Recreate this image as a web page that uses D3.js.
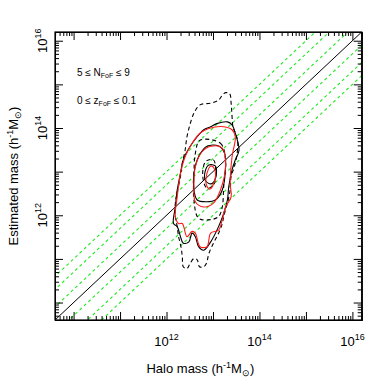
<!DOCTYPE html>
<html>
<head>
<meta charset="utf-8">
<script src="https://cdn.jsdelivr.net/npm/d3@7"></script>
<style>
  body { margin: 0; background: #fff; }
  text { font-family: "Liberation Sans", Arial, sans-serif; fill: #000; }
</style>
</head>
<body>
<svg id="chart"></svg>
<script>
// log10 masses, [halo, estimated]
const dashedOuter = [[13.27,14.81],[13.36,14.78],[13.39,14.57],[13.41,14.26],[13.43,14.03],[13.48,13.88],[13.53,13.72],[13.52,13.42],[13.46,13.11],[13.39,12.89],[13.37,12.58],[13.31,12.28],[13.23,11.97],[13.20,11.81],[13.12,11.59],[13.01,11.36],[12.91,11.12],[12.86,10.90],[12.80,10.82],[12.71,10.82],[12.66,10.98],[12.59,11.01],[12.51,10.90],[12.44,10.78],[12.36,10.82],[12.34,11.05],[12.31,11.28],[12.26,11.51],[12.23,11.74],[12.19,11.97],[12.19,12.28],[12.24,12.58],[12.30,12.89],[12.34,13.19],[12.40,13.49],[12.44,13.80],[12.51,14.10],[12.59,14.34],[12.72,14.53],[12.95,14.57],[13.12,14.64],[13.20,14.75]]
const dashedMiddle = [[12.72,13.72],[13.16,13.65],[13.27,13.27],[13.23,12.66],[13.20,12.19],[13.12,11.97],[12.95,11.90],[12.69,11.93],[12.59,12.35],[12.59,12.96],[12.62,13.42]]
const dashedInner = [[12.84,13.23],[13.01,13.27],[13.06,12.96],[13.01,12.69],[12.87,12.62],[12.78,12.89]]

const blackOuter = [[13.08,14.10],[13.31,14.14],[13.41,14.07],[13.48,13.88],[13.56,13.49],[13.48,13.27],[13.41,13.04],[13.34,12.66],[13.31,12.35],[13.23,12.04],[13.12,11.74],[12.95,11.39],[12.80,11.20],[12.69,11.28],[12.62,11.51],[12.55,11.59],[12.48,11.39],[12.36,11.36],[12.30,11.51],[12.23,11.74],[12.15,11.81],[12.19,12.19],[12.23,12.58],[12.30,12.96],[12.36,13.27],[12.51,13.58],[12.66,13.80],[12.80,13.96],[12.95,14.03]]
const blackMiddle = [[12.87,13.58],[13.12,13.59],[13.25,13.42],[13.27,13.11],[13.20,12.58],[13.05,12.35],[12.87,12.31],[12.66,12.35],[12.59,12.58],[12.59,12.96],[12.69,13.34]]
const blackInner = [[12.91,13.15],[13.05,13.13],[13.06,12.87],[12.96,12.72],[12.84,12.79],[12.83,13.00]]

const redOuter = [[12.91,13.99],[13.23,14.03],[13.41,13.96],[13.48,13.80],[13.41,13.34],[13.37,12.73],[13.39,12.42],[13.27,12.19],[13.20,11.90],[13.12,11.66],[12.95,11.59],[12.87,11.28],[12.72,11.28],[12.62,11.59],[12.55,11.63],[12.44,11.51],[12.34,11.81],[12.26,11.81],[12.19,11.97],[12.23,12.42],[12.30,12.96],[12.40,13.34],[12.55,13.65],[12.72,13.88]]
const redMiddle = [[12.95,13.58],[13.20,13.54],[13.27,13.11],[13.16,12.58],[13.01,12.28],[12.80,12.19],[12.62,12.31],[12.59,12.66],[12.62,13.11],[12.76,13.45]]
const redInner = [[12.96,13.13],[13.04,13.04],[13.03,12.77],[12.93,12.60],[12.86,12.69],[12.87,12.96]]

// green reference lines: estimated = factor * halo
const lineFactors = [0.1, 0.2, 0.5, 2, 5, 10]

const xLabelExps = [12, 14, 16]
const yLabelExps = [12, 14, 16]

const width = 374, height = 386
const margin = {left: 55, top: 32, right: 12.3, bottom: 66}
const logRange = [9.6, 16.2]

const svg = d3.select("#chart").attr("width", width).attr("height", height)

const x = d3.scaleLog().domain(logRange.map(v => 10 ** v)).range([margin.left, width - margin.right])
const y = d3.scaleLog().domain(logRange.map(v => 10 ** v)).range([height - margin.bottom, margin.top])

const x0 = margin.left, x1 = width - margin.right
const y0 = height - margin.bottom, y1 = margin.top

svg.append("defs").append("clipPath").attr("id", "clip")
  .append("rect").attr("x", x0).attr("y", y1).attr("width", x1 - x0).attr("height", y0 - y1)

const plot = svg.append("g").attr("clip-path", "url(#clip)")

// 1:1 and factor lines
const lo = 10 ** 9, hi = 10 ** 17
plot.selectAll(".ref").data(lineFactors).enter().append("line")
  .attr("x1", x(lo)).attr("y1", f => y(lo * f))
  .attr("x2", x(hi)).attr("y2", f => y(hi * f))
  .attr("stroke", "#1ee81e").attr("stroke-width", 1.1).attr("stroke-dasharray", "3,3")

plot.append("line")
  .attr("x1", x(lo)).attr("y1", y(lo)).attr("x2", x(hi)).attr("y2", y(hi))
  .attr("stroke", "#000").attr("stroke-width", 1)

const line = d3.line().curve(d3.curveCatmullRomClosed.alpha(0.5))
  .x(d => x(10 ** d[0])).y(d => y(10 ** d[1]))

const contours = [
  {pts: dashedOuter, color: "#000", dash: "4,3"},
  {pts: dashedMiddle, color: "#000", dash: "4,3"},
  {pts: dashedInner, color: "#000", dash: "4,3"},
  {pts: blackOuter, color: "#000", dash: null},
  {pts: blackMiddle, color: "#000", dash: null},
  {pts: blackInner, color: "#000", dash: null},
  {pts: redOuter, color: "#ff1a1a", dash: null},
  {pts: redMiddle, color: "#ff1a1a", dash: null},
  {pts: redInner, color: "#ff1a1a", dash: null}
]

plot.selectAll(".contour").data(contours).enter().append("path")
  .attr("class", "contour")
  .attr("d", d => line(d.pts))
  .attr("fill", "none")
  .attr("stroke", d => d.color)
  .attr("stroke-width", 1.1)
  .attr("stroke-dasharray", d => d.dash)

// axes: IDL style inward ticks on all four sides
function logTicks(dom) {
  const major = [], minor = []
  for (let e = Math.floor(dom[0]); e <= Math.ceil(dom[1]); e++) {
    if (e >= dom[0] && e <= dom[1]) major.push(10 ** e)
    for (let m = 2; m <= 9; m++) {
      const v = Math.log10(m) + e
      if (v >= dom[0] && v <= dom[1]) minor.push(m * 10 ** e)
    }
  }
  return {major, minor}
}

const ticks = logTicks(logRange)

function addAxis(axisFn, scale, vals, size, transform) {
  svg.append("g").attr("transform", transform)
    .call(axisFn(scale).tickValues(vals).tickSize(size).tickFormat(""))
    .call(g => g.selectAll("path").attr("stroke", "#000"))
    .call(g => g.selectAll("line").attr("stroke", "#000"))
}

addAxis(d3.axisTop, x, ticks.major, 8, `translate(0,${y0})`)
addAxis(d3.axisTop, x, ticks.minor, 4, `translate(0,${y0})`)
addAxis(d3.axisBottom, x, ticks.major, 8, `translate(0,${y1})`)
addAxis(d3.axisBottom, x, ticks.minor, 4, `translate(0,${y1})`)
addAxis(d3.axisRight, y, ticks.major, 8, `translate(${x0},0)`)
addAxis(d3.axisRight, y, ticks.minor, 4, `translate(${x0},0)`)
addAxis(d3.axisLeft, y, ticks.major, 8, `translate(${x1},0)`)
addAxis(d3.axisLeft, y, ticks.minor, 4, `translate(${x1},0)`)

svg.append("rect").attr("x", x0).attr("y", y1).attr("width", x1 - x0).attr("height", y0 - y1)
  .attr("fill", "none").attr("stroke", "#000").attr("stroke-width", 1.2)

// tick labels
function powLabel(sel, e) {
  sel.append("tspan").text("10")
  sel.append("tspan").attr("dy", -6).attr("font-size", 9).text(e)
}

xLabelExps.forEach(e => {
  svg.append("text").attr("x", x(10 ** e)).attr("y", y0 + 26)
    .attr("text-anchor", "middle").attr("font-size", 13)
    .call(powLabel, e)
})

yLabelExps.forEach(e => {
  svg.append("text")
    .attr("transform", `translate(${x0 - 8},${y(10 ** e)}) rotate(-90)`)
    .attr("text-anchor", "middle").attr("font-size", 13)
    .call(powLabel, e)
})

// axis titles
function massTitle(t, head) {
  t.append("tspan").text(head + " (h")
  t.append("tspan").attr("dy", -5).attr("font-size", 9).text("-1")
  t.append("tspan").attr("dy", 5).text("M")
  t.append("tspan").attr("dy", 3).attr("font-size", 9).text("\u2299")
  t.append("tspan").attr("dy", -3).text(")")
}

svg.append("text").attr("x", (x0 + x1) / 2 - 8).attr("y", 373)
  .attr("text-anchor", "middle").attr("font-size", 13)
  .call(massTitle, "Halo mass")

svg.append("text").attr("transform", `translate(18,${(y0 + y1) / 2}) rotate(-90)`)
  .attr("text-anchor", "middle").attr("font-size", 13)
  .call(massTitle, "Estimated mass")

// annotations
function annot(yPos, pre, sym, post) {
  const t = svg.append("text").attr("x", 77).attr("y", yPos).attr("font-size", 10)
  t.append("tspan").text(pre + sym)
  t.append("tspan").attr("dy", 2).attr("font-size", 7).text("FoF")
  t.append("tspan").attr("dy", -2).text(post)
}
annot(76, "5 \u2264 ", "N", " \u2264 9")
annot(104, "0 \u2264 ", "z", " \u2264 0.1")
</script>
</body>
</html>
